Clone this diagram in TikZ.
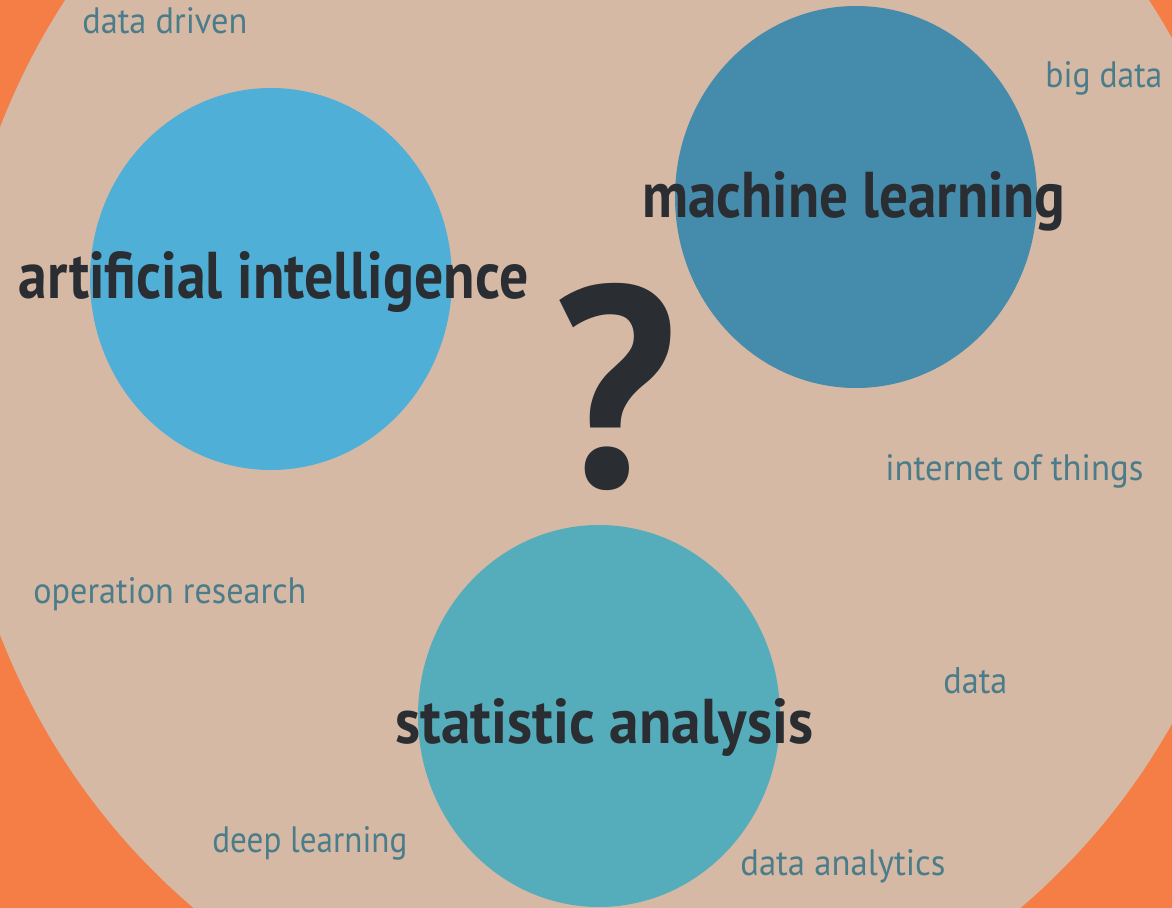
\documentclass[tikz,border=0pt]{standalone}
\usepackage{fontspec}
\setmainfont{PT Sans}
\usetikzlibrary{shapes.geometric}

\newlength\pxu
\setlength\pxu{0.02cm}
\newcommand\fitlabel[3]{\resizebox{#1\pxu}{#2\pxu}{#3}}

\definecolor{bgorange}{HTML}{F47E45}
\definecolor{bgbeige}{HTML}{D6B9A5}
\definecolor{aiblue}{HTML}{4FAFD7}
\definecolor{mlblue}{HTML}{458BAB}
\definecolor{sablue}{HTML}{55ADBB}
\definecolor{inkdark}{HTML}{2A2E33}
\definecolor{inkteal}{HTML}{4A7C8A}

\tikzset{
  blob/.style={ellipse, draw=none, inner sep=0pt, minimum width=362\pxu, minimum height=382\pxu},
  bigword/.style={anchor=base west, inner sep=0pt, text=inkdark, font=\bfseries},
  smallword/.style={anchor=base west, inner sep=0pt, text=inkteal}
}

\begin{document}
\begin{tikzpicture}[x=0.02cm, y=-0.02cm]
      \useasboundingbox (0,0) rectangle (1172,908);
      \clip (0,0) rectangle (1172,908);

      % Background
      \fill[bgorange] (0,0) rectangle (1172,908);
      \fill[bgbeige] (607,381) ellipse [x radius=654\pxu, y radius=680\pxu];

      % Circles
      \node[blob, fill=aiblue] (ai) at (271,279) {};
      \node[blob, fill=mlblue] (ml) at (856,197) {};
      \node[blob, fill=sablue] (sa) at (599,716) {};

      % Big labels
      \node[bigword] (ai-txt) at (18,299) {\fitlabel{510}{47}{artificial intelligence}};
      \node[bigword] (ml-txt) at (642,218) {\fitlabel{423}{46}{machine learning}};
      \node[bigword] (sa-txt) at (395,743) {\fitlabel{418}{45}{statistic analysis}};

      % Question mark
      \node[anchor=base, inner sep=0pt, text=inkdark, font=\bfseries] (qmark) at (616,487) {\fitlabel{124}{204}{?}};

      % Small labels
      \foreach \x/\y/\w/\txt [count=\i] in {82/34/165/data driven, 1045/88/117/big data,
        885/480/258/internet of things, 33/603/273/operation research, 943/693/64/data,
        212/852/195/deep learning, 740/875/205/data analytics}
      \node[smallword] (tag-\i) at (\x,\y) {\fitlabel{\w}{26}{\txt}};

\end{tikzpicture}
\end{document}
